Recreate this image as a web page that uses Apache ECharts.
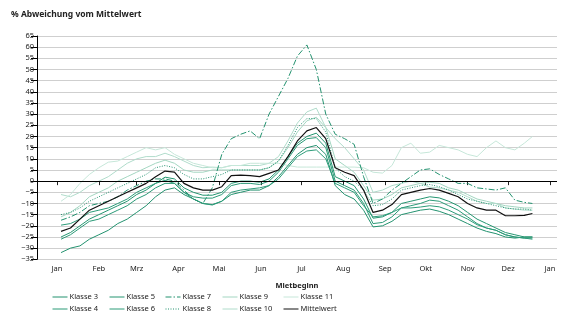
<!DOCTYPE html>
<html><head><meta charset="utf-8">
<script src="https://cdn.jsdelivr.net/npm/echarts@6/dist/echarts.min.js"></script>
<style>html,body{margin:0;padding:0;background:#fff}#c{width:582px;height:323px}</style>
</head><body><div id="c"></div>
<script>
// day of year (0 = 1 Jan)
const days = [3,10,17,24,31,38,45,52,59,66,73,80,87,94,101,108,115,122,129,136,143,150,157,164,171,178,185,192,199,206,213,220,227,234,241,248,255,262,269,276,283,290,297,304,311,318,325,332,339,346,352];
const monthStarts = [0,31,59,90,120,151,181,212,243,273,304,334,365];
const monthLabels = ['Jan','Feb','Mrz','Apr','Mai','Jun','Jul','Aug','Sep','Okt','Nov','Dez','Jan'];
const yTicks = {min:-35, max:65, step:5};

const klasse3 = [-32,-30,-29,-26,-24,-22,-19,-17,-14,-11,-7,-4,-3,-6,-8,-10,-10.5,-9,-6,-5,-4,-4,-2,2,7,12,15,16,12,-2,-6,-8,-13,-20.5,-20,-18,-15,-14,-13,-12.5,-13.5,-15,-17,-19,-21,-22.5,-23.5,-25,-25.5,-25,-25];
const klasse4 = [-26,-24,-21,-18,-17,-15,-13,-11,-8,-6,-3,-1,-1,-5,-7,-7.6,-7.6,-6,-2,-1,-1,-1.5,0,4,10,16,19,19.5,15,0,-2,-4,-10,-19,-18.5,-16,-12,-11,-10,-8.5,-9,-11,-13,-16,-19,-21,-22,-24,-25,-25.5,-25.5];
const klasse5 = [-25,-23,-20,-17,-15,-13,-11,-9,-6,-4,-1,1.8,1,-3,-5,-6.3,-6.3,-5,-1,0,0,-0.5,1,5,11,17,20,21.5,17,2,0,-2,-8,-16.6,-16,-14,-10,-9,-8,-7,-7.5,-9,-11,-14,-17,-19,-21,-23,-24,-25,-25];
const klasse6 = [-19.7,-19,-17,-14,-13,-12,-10,-8,-5,-3,-1,0.4,-1,-5,-8,-10,-10.7,-9,-5,-4,-3.5,-3,-2,1,6,11,13.5,14,10,-1,-3,-5,-11,-16,-15.5,-14,-12,-12,-11.6,-11,-11.5,-13,-15,-17,-19.5,-21,-22,-24,-25,-25.5,-26];
const klasse7 = [-17.5,-16,-14,-11,-10,-9,-7,-4,-2,0,1,1,0,-4,-8,-10,-3,12,19,21,22.5,19,30,38,46,56,61,50,30,21,19,16.5,2,-10,-8,-4,-1,2,5,5.5,3,1,-1,-1,-3,-3.5,-4,-3,-8.5,-9.5,-10];
const klasse8 = [-15,-14,-12,-9,-7,-5,-3,-1,1,3,6,7,6,3,1,1,2,3,5,5,5,5,6,9,16,24,28,28,22,6,2,0,-4,-11,-10.5,-8,-4,-3,-2,-1.5,-2.5,-4,-6,-8,-9,-10,-11,-12,-12.5,-12.5,-13];
const klasse9 = [-16,-14,-11,-7,-5,-3,0,2,4,6,8,9.4,8,5,4,4,5,5,5,5,5,5,6,9,15,22,27,28.6,24,10,7,4,-2,-8.5,-8,-6,-3,-2,-1,-0.5,-1,-3,-4,-6,-8,-9,-10,-11,-11.5,-12,-12];
const klasse10 = [-6,-7,-5,-2,0,2,5,8,10,11,11,12.5,11,9,7,6,6.3,6,7,7,7,7,8,11,18,26,31,32.7,24,19,15,10,5,-5,-4,-2,-1,0,-1,-2.7,-3,-4,-5,-7,-9,-10,-10,-12,-12.5,-13,-13];
const klasse11 = [-9,-6,-1,3,6,8.5,9,11,13,15,14,15,12,10,8,7,6,6,7,7,8,8,8,8,7,6.3,6.3,6.3,6.3,6.3,6.3,6.3,6,4,3.6,7,15,17,12.5,13,16,15,14,12,11,15,18,15,14,17,20];
const mittelwert = [-22.5,-21,-17,-13,-11,-9,-7,-5,-3,-1,2,4.5,4,-1,-3,-4,-4,-2.5,2.5,2.7,2.5,2,3.5,5,11,18,22.5,24,19,6,4,2.5,-4,-14,-13,-10.5,-6,-5,-4,-3.3,-4,-5.5,-7,-10,-12,-13,-13,-15.5,-15.5,-15.3,-14.5];

const FONT = 'Noto Sans';
const G = '#23926f';
const defs = [
  {name:'Klasse 3', data:klasse3, color:G, type:'solid'},
  {name:'Klasse 4', data:klasse4, color:'#2a9a77', type:'solid'},
  {name:'Klasse 5', data:klasse5, color:'#249570', type:'solid'},
  {name:'Klasse 6', data:klasse6, color:'#2c9c79', type:'solid'},
  {name:'Klasse 7', data:klasse7, color:G, type:[6,2,1.5,2]},
  {name:'Klasse 8', data:klasse8, color:G, type:[1,1.5]},
  {name:'Klasse 9', data:klasse9, color:'#a3d6c1', type:'solid'},
  {name:'Klasse 10', data:klasse10, color:'#b0dccb', type:'solid'},
  {name:'Klasse 11', data:klasse11, color:'#c6e7d9', type:'solid'},
  {name:'Mittelwert', data:mittelwert, color:'#111', type:'solid'}
];
const series = defs.map((d,i)=>({
  name:d.name, type:'line', symbol:'none', showSymbol:false, smooth:false,
  data: days.map((x,j)=>[x, d.data[j]]),
  lineStyle:{color:d.color, width: d.name==='Mittelwert'?1.2:1, type:d.type},
  itemStyle:{color:d.color},
  z: d.name==='Mittelwert'?5:(i>=6?2:3),
  animation:false,
  markLine: d.name==='Mittelwert' ? {silent:true, symbol:'none', label:{show:false},
    lineStyle:{color:'#000', width:1, type:'solid'}, data:[{yAxis:0}], animation:false} : undefined
}));

const legendCols = [[0,1],[2,3],[4,5],[6,7],[8,9]];
const legendLeft = [52,109,165,222,283];
const legends = legendCols.map((c,k)=>({
  data: c.map(i=>defs[i].name), orient:'vertical', left:legendLeft[k], top:293,
  itemWidth:15, itemHeight:8, itemGap:4, padding:0,
  itemStyle:{color:'rgba(0,0,0,0)', borderColor:'rgba(0,0,0,0)', borderWidth:0},
  lineStyle:{width:1},
  textStyle:{fontFamily:FONT, fontSize:7.5, color:'#222', padding:[0,0,0,-3]},
  selectedMode:false
}));

const chart = echarts.init(document.getElementById('c'), null, {renderer:'canvas'});
chart.setOption({
  animation:false,
  title:{text:'% Abweichung vom Mittelwert', left:11, top:10, padding:0,
    textStyle:{fontFamily:FONT, fontSize:8.5, fontWeight:'bold', color:'#222'}},
  legend: legends,
  grid:{left:37, right:25, top:36, bottom:63.7, containLabel:false},
  xAxis:{type:'value', min:-14.8, max:370.2, offset:2,
    name:'Mietbeginn', nameLocation:'middle', nameGap:21,
    nameTextStyle:{fontFamily:FONT, fontSize:7.5, fontWeight:'bold', color:'#222'},
    axisLine:{show:false},
    axisTick:{show:true, length:4, lineStyle:{color:'#222'}, customValues:monthStarts},
    axisLabel:{fontFamily:FONT, fontSize:7.5, color:'#222', margin:4, customValues:monthStarts,
      formatter:(v)=>monthLabels[monthStarts.indexOf(v)] || ''},
    splitLine:{show:false}},
  yAxis:{type:'value', min:yTicks.min, max:yTicks.max, interval:yTicks.step,
    axisLine:{show:true, onZero:false, lineStyle:{color:'#000', width:1}},
    axisTick:{show:true, length:6, lineStyle:{color:'#000'}},
    axisLabel:{fontFamily:FONT, fontSize:7.5, color:'#222', margin:3,
      formatter:(v)=> (v<0?'\u2212'+Math.abs(v):String(v))},
    splitLine:{show:true, lineStyle:{color:'#cfcfcf', width:1}}},
  series: series
});
</script></body></html>
